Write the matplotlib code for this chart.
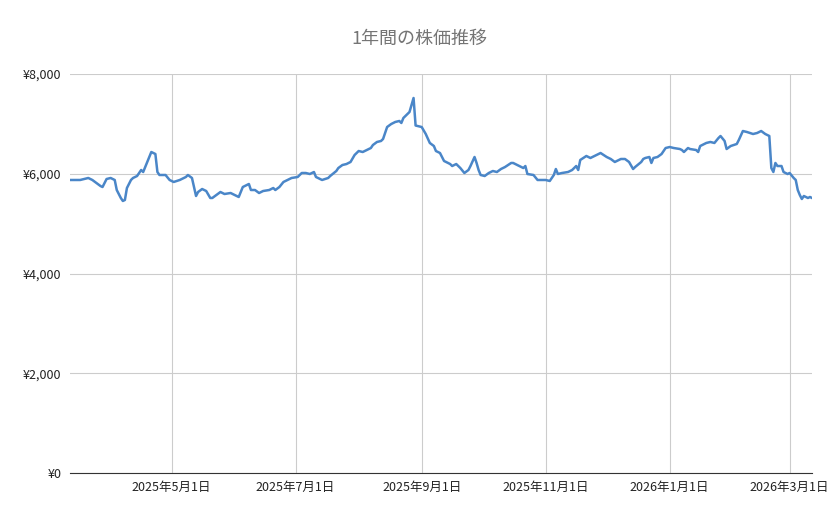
import matplotlib
matplotlib.use('Agg')
import matplotlib.pyplot as plt
import matplotlib.dates as mdates
import matplotlib.ticker as mticker
import numpy as np
import pandas as pd

plt.rcParams['font.family'] = ['Noto Sans CJK JP', 'DejaVu Sans']

start = '2025-03-12'
# day offsets from start
days = [0, 5, 9, 11, 15, 16, 18, 20, 22, 23, 25, 26, 27, 28, 30, 31, 33, 35, 36, 38,
        40, 42, 43, 44, 47, 49, 51, 54, 57, 58, 60, 62, 63, 65, 67, 69, 70, 74, 76, 79,
        81, 83, 84, 85, 88, 89, 91, 93, 95, 98, 100, 101, 103, 105, 107, 109, 112, 114, 116, 118,
        120, 121, 124, 127, 128, 131, 132, 134, 136, 138, 140, 142, 144, 146, 148, 149, 151, 153, 154, 156,
        158, 160, 162, 163, 164, 165, 167, 169, 170, 173, 175, 177, 179, 180, 182, 184, 187, 188, 190, 192,
        194, 196, 197, 199, 200, 201, 202, 204, 206, 208, 210, 212, 214, 217, 218, 221, 223, 224, 225, 228,
        230, 232, 234, 236, 238, 239, 240, 242, 245, 247, 249, 250, 251, 254, 256, 259, 261, 264, 266, 268,
        271, 273, 275, 277, 278, 281, 282, 283, 285, 286, 287, 289, 291, 293, 295, 297, 300, 301, 302, 304,
        305, 308, 309, 310, 313, 315, 317, 319, 320, 322, 323, 325, 328, 329, 331, 333, 336, 338, 340, 342,
        344, 345, 346, 347, 348, 350, 351, 353, 354, 356, 357, 358, 359, 360, 361, 362, 363, 364, 365]
prices = [5875, 5875, 5915, 5875, 5754, 5734, 5895, 5915, 5875, 5674, 5514, 5454, 5474, 5714, 5875, 5915, 5955, 6075, 6035, 6236,
          6436, 6396, 6035, 5975, 5975, 5875, 5835, 5875, 5935, 5975, 5915, 5554, 5634, 5694, 5654, 5514, 5514, 5634, 5594, 5614,
          5574, 5534, 5634, 5734, 5795, 5674, 5674, 5614, 5654, 5674, 5714, 5674, 5734, 5835, 5875, 5915, 5935, 6015, 6015, 5995,
          6035, 5935, 5875, 5915, 5955, 6055, 6115, 6175, 6195, 6236, 6376, 6456, 6436, 6476, 6516, 6576, 6637, 6657, 6697, 6937,
          6997, 7038, 7058, 7018, 7118, 7158, 7238, 7519, 6967, 6937, 6797, 6617, 6556, 6456, 6416, 6256, 6195, 6155, 6195, 6115,
          6015, 6075, 6155, 6336, 6216, 6075, 5975, 5955, 6015, 6055, 6035, 6095, 6135, 6216, 6216, 6155, 6115, 6155, 5995, 5975,
          5875, 5875, 5875, 5855, 5975, 6095, 5995, 6015, 6035, 6075, 6155, 6075, 6276, 6356, 6316, 6376, 6416, 6336, 6296, 6236,
          6296, 6296, 6236, 6095, 6135, 6236, 6296, 6316, 6336, 6216, 6316, 6336, 6396, 6516, 6536, 6516, 6496, 6476, 6436, 6516,
          6496, 6476, 6436, 6556, 6617, 6637, 6617, 6717, 6757, 6657, 6496, 6556, 6597, 6677, 6857, 6837, 6797, 6817, 6857, 6797,
          6757, 6115, 6035, 6216, 6155, 6155, 6035, 5995, 6015, 5915, 5875, 5674, 5574, 5494, 5554, 5534, 5514, 5534, 5514]
tick_dates = ['2025-05-01', '2025-07-01', '2025-09-01', '2025-11-01', '2026-01-01', '2026-03-01']
tick_labels = ['2025年5月1日', '2025年7月1日', '2025年9月1日', '2025年11月1日', '2026年1月1日', '2026年3月1日']
title = '1年間の株価推移'

dates = pd.Timestamp(start) + pd.to_timedelta(days, unit='D')

fig = plt.figure(figsize=(8.39, 5.19), dpi=100)
ax = fig.add_axes([70/839, 46/519, 742/839, 399/519])
ax.plot(dates, prices, color='#4a86c8', lw=1.8)

ax.set_ylim(0, 8000)
ax.set_yticks([0, 2000, 4000, 6000, 8000])
ax.yaxis.set_major_formatter(mticker.FuncFormatter(lambda v, p: f'¥{v:,.0f}'))
ax.set_xlim(pd.Timestamp(start), pd.Timestamp(start) + pd.Timedelta(days=365))
ax.set_xticks(pd.to_datetime(tick_dates))
ax.set_xticklabels(tick_labels)

ax.grid(True, color='#cccccc', lw=0.8)
ax.set_axisbelow(True)
for s in ['top', 'right', 'left']:
    ax.spines[s].set_visible(False)
ax.spines['bottom'].set_color('#333333')
ax.tick_params(length=0, labelsize=9, colors='#222222', pad=6)

fig.text(0.5, 0.925, title, ha='center', va='center', fontsize=13, color='#757575')
fig.savefig('out.png')
